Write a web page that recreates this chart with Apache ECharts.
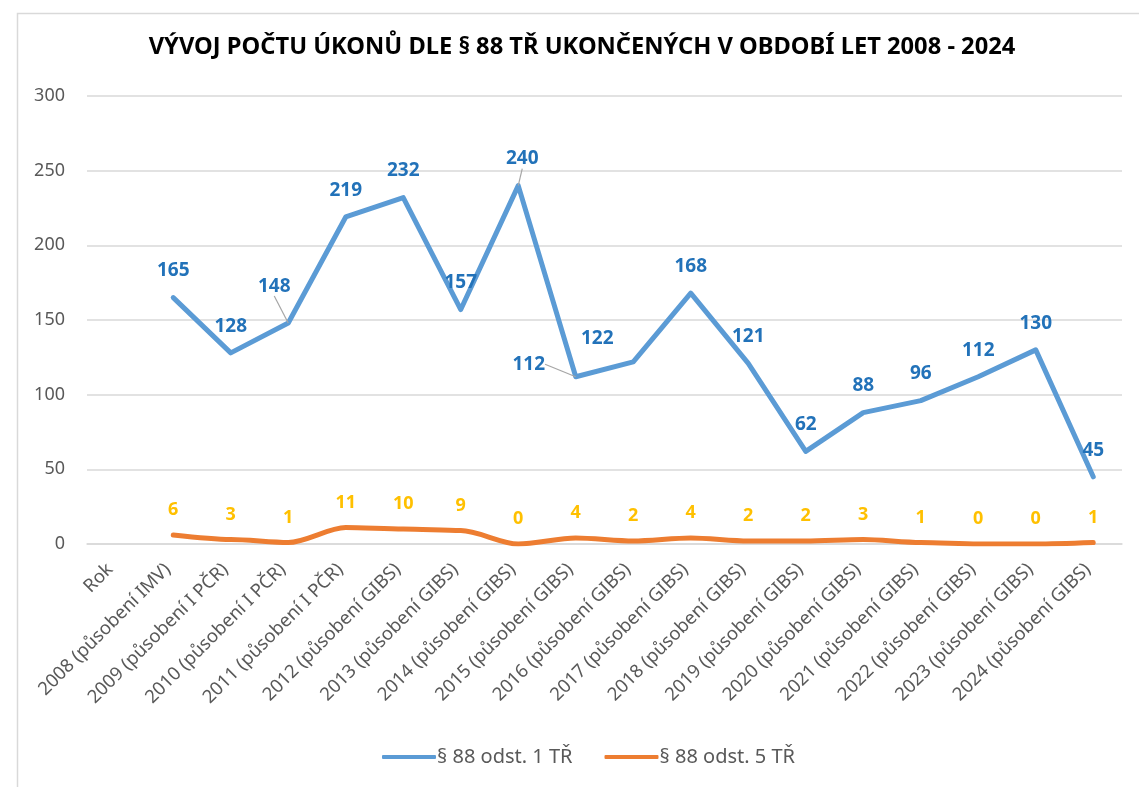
<!DOCTYPE html>
<html>
<head>
<meta charset="utf-8">
<script src="https://cdn.jsdelivr.net/npm/echarts@6/dist/echarts.min.js"></script>
<style>
  html, body { margin: 0; padding: 0; background: #fff; }
  #chart { width: 1139px; height: 787px; }
</style>
</head>
<body>
<div id="chart"></div>
<script>
const categories = [
  "Rok",
  "2008 (působení IMV)",
  "2009 (působení I PČR)",
  "2010 (působení I PČR)",
  "2011 (působení I PČR)",
  "2012 (působení GIBS)",
  "2013 (působení GIBS)",
  "2014 (působení GIBS)",
  "2015 (působení GIBS)",
  "2016 (působení GIBS)",
  "2017 (působení GIBS)",
  "2018 (působení GIBS)",
  "2019 (působení GIBS)",
  "2020 (působení GIBS)",
  "2021 (působení GIBS)",
  "2022 (působení GIBS)",
  "2023 (působení GIBS)",
  "2024 (působení GIBS)"
];
const odst1 = [null, 165, 128, 148, 219, 232, 157, 240, 112, 122, 168, 121, 62, 88, 96, 112, 130, 45];
const odst5 = [null, 6, 3, 1, 11, 10, 9, 0, 4, 2, 4, 2, 2, 3, 1, 0, 0, 1];
const yTicks = [0, 50, 100, 150, 200, 250, 300];

// posuny popisků (jako v Excelu, kde byly ručně posunuté) + kde je vodicí čára
const shift1 = { 3: [-14, -10], 7: [4, 0], 8: [-47, 14], 9: [-36, 3] };
const leaders1 = [3, 7, 8];

const chart = echarts.init(document.getElementById('chart'));
const font = 'Noto Sans';

const data1 = odst1.map((v, i) => ({
  value: v,
  labelLine: { show: leaders1.indexOf(i) >= 0 }
}));

chart.setOption({
  backgroundColor: '#fff',
  animation: false,
  title: {
    text: 'VÝVOJ POČTU ÚKONŮ DLE § 88 TŘ UKONČENÝCH V OBDOBÍ LET 2008 - 2024',
    left: 577,
    textAlign: 'center',
    top: 30,
    textStyle: { fontFamily: font, fontWeight: 'bold', fontSize: 23.7, color: '#000' }
  },
  graphic: [{
    type: 'rect',
    shape: { x: 17.5, y: 13.5, width: 1200, height: 800 },
    style: { fill: 'none', stroke: '#d9d9d9', lineWidth: 1.5 },
    silent: true
  }],
  legend: {
    bottom: 15,
    left: 377,
    itemWidth: 54,
    itemHeight: 4,
    itemGap: 32,
    icon: 'roundRect',
    textStyle: { fontFamily: font, fontSize: 20, color: '#595959', padding: [0, 0, 0, -4] },
    data: ['§ 88 odst. 1 TŘ', '§ 88 odst. 5 TŘ']
  },
  grid: { left: 87, right: 17, top: 96, bottom: 243 },
  xAxis: {
    type: 'category',
    data: categories,
    boundaryGap: true,
    axisLine: { lineStyle: { color: '#d9d9d9', width: 1.5 } },
    axisTick: { show: false },
    axisLabel: {
      rotate: 45,
      interval: 0,
      margin: 17,
      padding: [0, 8, 0, 0],
      fontFamily: font,
      fontSize: 18.5,
      color: '#595959'
    }
  },
  yAxis: {
    type: 'value',
    min: yTicks[0],
    max: yTicks[yTicks.length - 1],
    interval: 50,
    axisLine: { show: false },
    axisTick: { show: false },
    splitLine: { lineStyle: { color: '#d9d9d9', width: 1.5 } },
    axisLabel: { fontFamily: font, fontSize: 18, color: '#595959', margin: 22 }
  },
  series: [
    {
      name: '§ 88 odst. 1 TŘ',
      type: 'line',
      data: data1,
      symbol: 'circle',
      symbolSize: 0.1,
      lineStyle: { color: '#5b9bd5', width: 5, cap: 'round', join: 'round' },
      itemStyle: { color: '#5b9bd5' },
      label: {
        show: true,
        position: 'top',
        distance: 17,
        fontFamily: font,
        fontWeight: 'bold',
        fontSize: 19,
        color: '#2272b9'
      },
      labelLine: { lineStyle: { color: '#a6a6a6', width: 1.2 } },
      labelLayout: function (p) {
        const s = shift1[p.dataIndex];
        return s ? { dx: s[0], dy: s[1] } : {};
      }
    },
    {
      name: '§ 88 odst. 5 TŘ',
      type: 'line',
      data: odst5,
      symbol: 'circle',
      symbolSize: 0.1,
      smooth: 0.3,
      smoothMonotone: 'x',
      lineStyle: { color: '#ed7d31', width: 5, cap: 'round', join: 'round' },
      itemStyle: { color: '#ed7d31' },
      label: {
        show: true,
        position: 'top',
        distance: 16,
        fontFamily: font,
        fontWeight: 'bold',
        fontSize: 18,
        color: '#ffc000'
      }
    }
  ]
});
</script>
</body>
</html>
